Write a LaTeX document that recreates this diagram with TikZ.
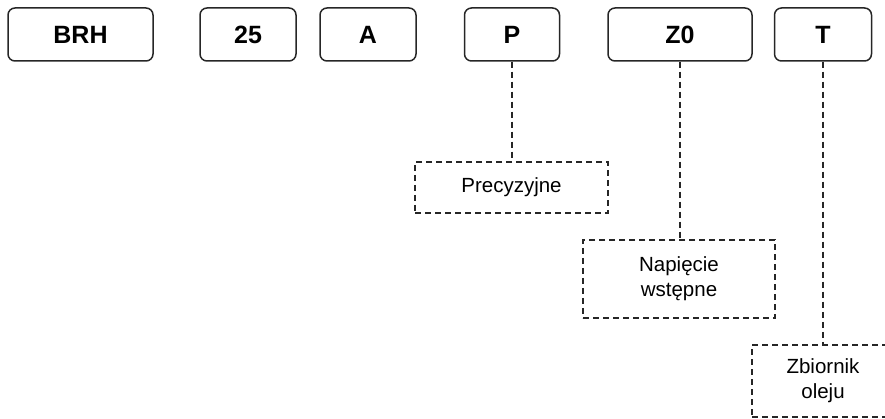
\documentclass[tikz,border=0pt]{standalone}
\usepackage{fontspec}
\setmainfont{Liberation Sans}
\begin{document}
\begin{tikzpicture}[x=1pt,y=-1pt,
  codebox/.style={draw=black!85, line width=1.5pt, rounded corners=7pt, minimum height=53pt, inner sep=0pt, font=\fontsize{25}{28}\selectfont\bfseries},
  descbox/.style={draw=black!85, line width=1.5pt, dash pattern=on 6pt off 4pt, inner sep=0pt, align=center, font=\fontsize{20.5}{25}\selectfont},
  link/.style={draw=black!85, line width=1.6pt, dash pattern=on 6pt off 4pt}]
\useasboundingbox (0,0) rectangle (885,419);
\clip (0,0) rectangle (885,419);
\node[codebox, minimum width=145pt] (brh) at (80.5,34.5) {BRH};
\node[codebox, minimum width=96pt] (n25) at (248,34.5) {25};
\node[codebox, minimum width=96pt] (a) at (368,34.5) {A};
\node[codebox, minimum width=95pt] (p) at (512,34.5) {P};
\node[codebox, minimum width=144pt] (z0) at (680,34.5) {Z0};
\node[codebox, minimum width=97pt] (t) at (823,34.5) {T};
\node[descbox, minimum width=193pt, minimum height=51pt] (prec) at (511.5,187.5) {Precyzyjne};
\node[descbox, minimum width=192pt, minimum height=78pt] (nap) at (679,279) {Napięcie\\wstępne};
\node[descbox, minimum width=142pt, minimum height=72pt] (zb) at (823,381) {Zbiornik\\oleju};
\draw[link] (p.south) -- (p.south |- prec.north);
\draw[link] (z0.south) -- (z0.south |- nap.north);
\draw[link] (t.south) -- (t.south |- zb.north);
\end{tikzpicture}
\end{document}
